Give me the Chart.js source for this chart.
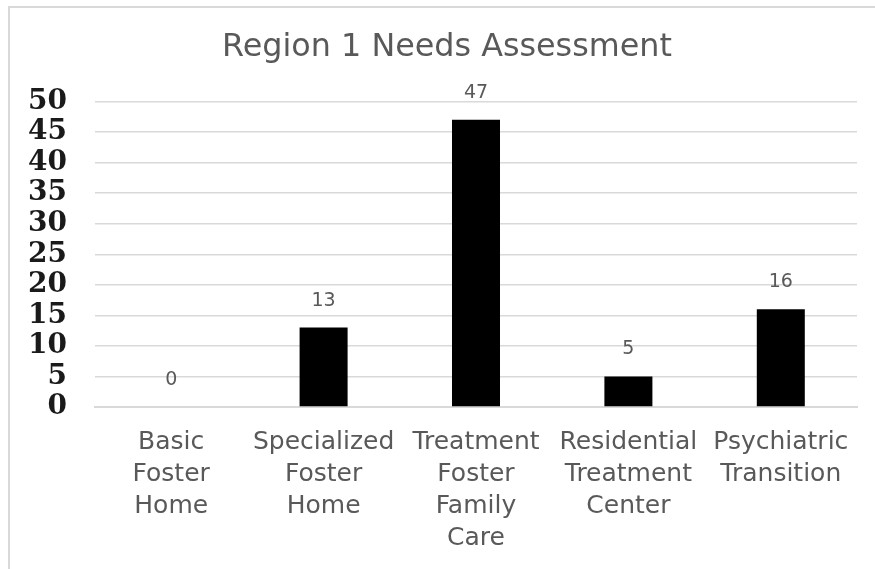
<!DOCTYPE html>
<html>
<head>
<meta charset="utf-8">
<title>Region 1 Needs Assessment</title>
<script src="https://cdn.jsdelivr.net/npm/chart.js@4/dist/chart.umd.min.js"></script>
<style>
  html, body { margin: 0; padding: 0; background: #ffffff; overflow: hidden; }
  #wrap { position: relative; width: 875px; height: 569px; }
  #frame {
    position: absolute; left: 8px; top: 6px; width: 900px; height: 600px;
    border-left: 2px solid #d9d9d9; border-top: 2px solid #d9d9d9;
    box-sizing: border-box; pointer-events: none;
  }
  canvas { position: absolute; left: 0; top: 0; }
</style>
</head>
<body>
<div id="wrap">
  <div id="frame"></div>
  <canvas id="chart" width="875" height="569"></canvas>
</div>
<script>
// Placement categories (multi-line axis labels)
const categories = [
  ["Basic", "Foster", "Home"],
  ["Specialized", "Foster", "Home"],
  ["Treatment", "Foster", "Family", "Care"],
  ["Residential", "Treatment", "Center"],
  ["Psychiatric", "Transition"]
];

// Number of youth assessed as needing each placement type
const needs = [0, 13, 47, 5, 16];

// Value axis ticks
const yTicks = [0, 5, 10, 15, 20, 25, 30, 35, 40, 45, 50];

const chartTitle = 'Region 1 Needs Assessment';

// Chart heading, centred on the framed panel
const heading = {
  id: 'heading',
  afterDraw(chart) {
    const { ctx } = chart;
    ctx.save();
    ctx.font = '31.8px "DejaVu Sans", sans-serif';
    ctx.fillStyle = '#595959';
    ctx.textAlign = 'center';
    ctx.textBaseline = 'middle';
    ctx.fillText(chartTitle, 447, 48);
    ctx.restore();
  }
};

// Writes each bar's value above it
const valueLabels = {
  id: 'valueLabels',
  afterDatasetsDraw(chart) {
    const { ctx } = chart;
    const meta = chart.getDatasetMeta(0);
    ctx.save();
    ctx.font = '19px "DejaVu Sans", sans-serif';
    ctx.fillStyle = '#595959';
    ctx.textAlign = 'center';
    ctx.textBaseline = 'middle';
    meta.data.forEach((bar, i) => {
      ctx.fillText(String(needs[i]), bar.x, bar.y - 27);
    });
    ctx.restore();
  }
};

new Chart(document.getElementById('chart'), {
  type: 'bar',
  data: {
    labels: categories,
    datasets: [{
      label: 'Needs',
      data: needs,
      backgroundColor: '#000000',
      borderWidth: 0,
      barPercentage: 0.315,
      categoryPercentage: 1
    }]
  },
  options: {
    responsive: false,
    animation: false,
    devicePixelRatio: 1,
    layout: { padding: { left: 26, right: 18, top: 101.5, bottom: 15 } },
    plugins: {
      legend: { display: false },
      tooltip: { enabled: false },
      title: { display: false }
    },
    scales: {
      x: {
        grid: { display: false, drawTicks: false },
        border: { display: true, color: '#d9d9d9', width: 2 },
        ticks: {
          color: '#595959',
          font: { family: '"DejaVu Sans", sans-serif', size: 25, lineHeight: 1.28 },
          padding: 19,
          maxRotation: 0,
          minRotation: 0,
          autoSkip: false
        },
        afterFit(scale) {
          scale.paddingLeft = 0;
          scale.paddingRight = 0;
          scale.height = 147;
        }
      },
      y: {
        min: 0,
        max: 50,
        afterBuildTicks(scale) {
          scale.ticks = yTicks.map(v => ({ value: v }));
        },
        afterFit(scale) {
          scale.width = 69;
        },
        grid: { color: '#d9d9d9', lineWidth: 1.5, drawTicks: false },
        border: { display: false },
        ticks: {
          color: '#1a1a1a',
          font: { family: '"DejaVu Serif", serif', size: 28, weight: 'bold', lineHeight: 1.0 },
          padding: 28,
          autoSkip: false
        }
      }
    }
  },
  plugins: [valueLabels, heading]
});
</script>
</body>
</html>
